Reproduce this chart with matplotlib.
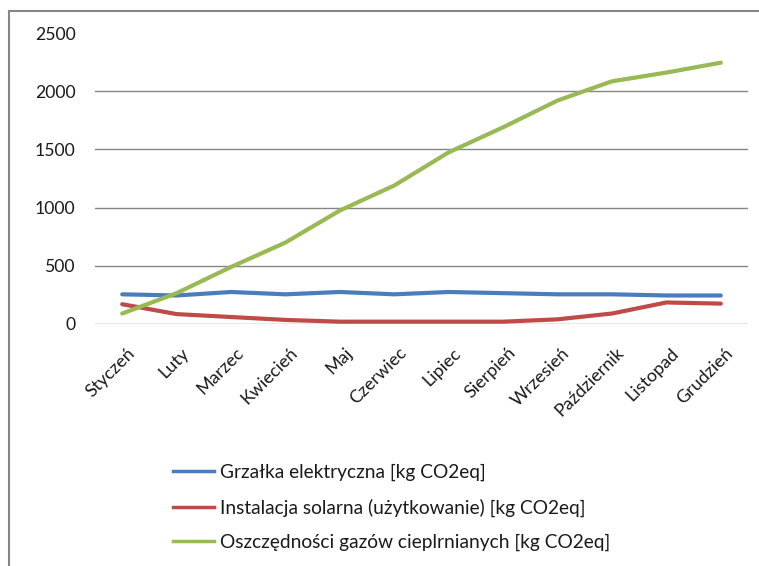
import matplotlib.pyplot as plt
import matplotlib.transforms as mtransforms
from matplotlib.lines import Line2D

plt.rcParams['font.family'] = ['Lato', 'DejaVu Sans']

months = ['Styczeń', 'Luty', 'Marzec', 'Kwiecień', 'Maj', 'Czerwiec', 'Lipiec',
          'Sierpień', 'Wrzesień', 'Październik', 'Listopad', 'Grudzień']
heater = [255, 245, 275, 255, 275, 255, 275, 265, 255, 255, 245, 245]
solar = [170, 85, 60, 35, 20, 20, 20, 20, 40, 90, 185, 175]
savings = [90, 265, 490, 700, 975, 1190, 1475, 1690, 1920, 2085, 2160, 2245]

labels = ['Grzałka elektryczna [kg CO2eq]',
          'Instalacja solarna (użytkowanie) [kg CO2eq]',
          'Oszczędności gazów cieplrnianych [kg CO2eq]']
colors = ['#4A7EBB', '#BE4B48', '#98B954']
text_col = '#1a1a1a'

W, H = 759, 566
fig = plt.figure(figsize=(W / 100, H / 100), dpi=100)
ax = fig.add_axes([95 / W, (H - 324) / H, 653 / W, 291 / H])

x = range(len(months))
for series, c in zip([heater, solar, savings], colors):
    ax.plot(x, series, color=c, lw=3, solid_capstyle='round', zorder=3)

ax.set_xlim(-0.5, len(months) - 0.5)
ax.set_ylim(0, 2500)
ax.set_yticks([0, 500, 1000, 1500, 2000, 2500])
for v in [0, 500, 1000, 1500, 2000]:
    ax.axhline(v, color='#868686', lw=1, zorder=1)

for s in ax.spines.values():
    s.set_visible(False)
ax.tick_params(axis='y', length=0, pad=14, labelsize=12.7, labelcolor=text_col)
ax.tick_params(axis='x', length=0, pad=15, labelsize=13, labelcolor=text_col)
ax.set_xticks(list(x))
ax.set_xticklabels(months, rotation=45, ha='right', rotation_mode='anchor')
shift = mtransforms.ScaledTranslation(4 / 100, 0, fig.dpi_scale_trans)
for t in ax.get_xticklabels():
    t.set_transform(t.get_transform() + shift)

# legend below the plot, stacked rows
handles = [Line2D([], [], color=c, lw=2.5) for c in colors]
fig.legend(handles, labels, loc='upper left', bbox_to_anchor=(173 / W, 1 - 464 / H),
           frameon=False, fontsize=13.8, handlelength=2.15, handletextpad=0.28,
           labelspacing=0.88, borderpad=0, borderaxespad=0, labelcolor=text_col)

# outer chart frame (top and left edges visible)
fig.add_artist(Line2D([9 / W, 9 / W], [0, 1 - 11 / H], color='#868686', lw=1.5,
                      transform=fig.transFigure))
fig.add_artist(Line2D([9 / W, 1], [1 - 11 / H, 1 - 11 / H], color='#868686', lw=1.5,
                      transform=fig.transFigure))

fig.savefig('out.png', dpi=100, facecolor='white')
